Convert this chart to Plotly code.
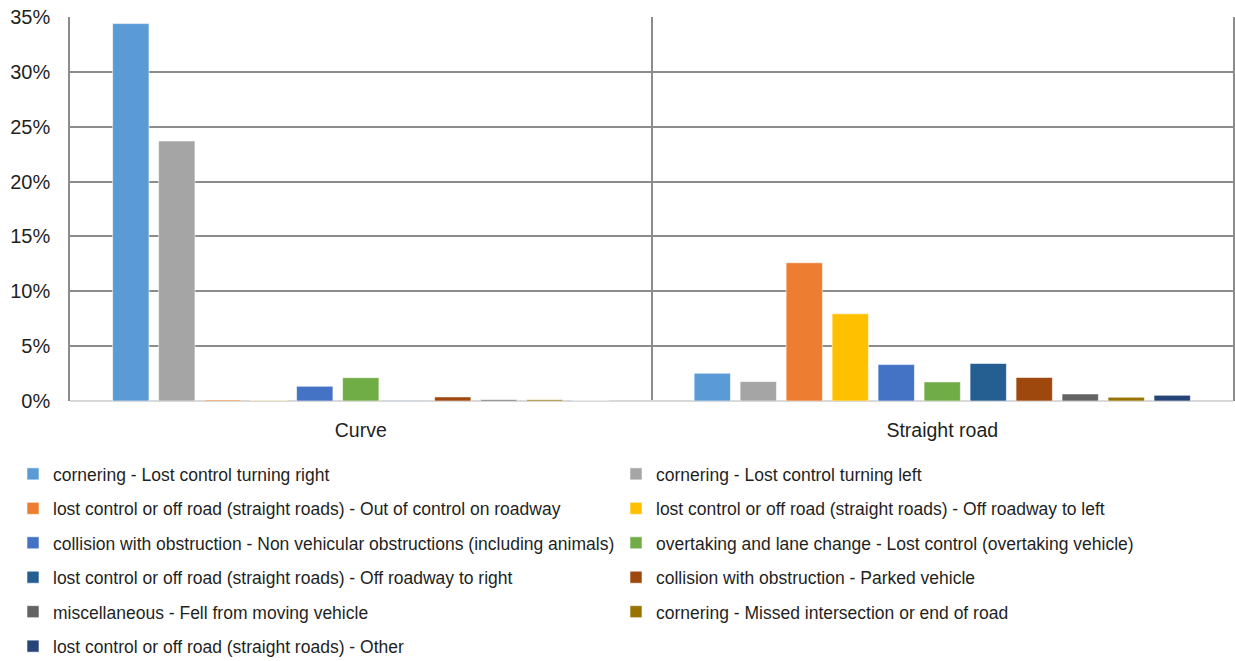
import plotly.graph_objects as go

categories = ["Curve", "Straight road"]

series_names = [
    "cornering - Lost control turning right",
    "cornering - Lost control turning left",
    "lost control or off road (straight roads) - Out of control on roadway",
    "lost control or off road (straight roads) - Off roadway to left",
    "collision with obstruction - Non vehicular obstructions (including animals)",
    "overtaking and lane change - Lost control (overtaking vehicle)",
    "lost control or off road (straight roads) - Off roadway to right",
    "collision with obstruction - Parked vehicle",
    "miscellaneous - Fell from moving vehicle",
    "cornering - Missed intersection or end of road",
    "lost control or off road (straight roads) - Other",
]

curve_values = [0.344, 0.237, 0.001, 0.0005, 0.0134, 0.0213, 0.0005, 0.0037, 0.0012, 0.0012, 0.0]
straight_values = [0.0253, 0.0177, 0.126, 0.0795, 0.0332, 0.0174, 0.0342, 0.0214, 0.0064, 0.0034, 0.0052]

colors = ["#5B9BD5", "#A5A5A5", "#ED7D31", "#FFC000", "#4472C4", "#70AD47",
          "#255E91", "#9E480E", "#636363", "#997300", "#264478"]

y_ticks = [0, 0.05, 0.10, 0.15, 0.20, 0.25, 0.30, 0.35]
y_tick_labels = ["0%", "5%", "10%", "15%", "20%", "25%", "30%", "35%"]

FONT = "Liberation Sans, Arial, sans-serif"
GRID = "#8c8c8c"

fig = go.Figure()
for i, name in enumerate(series_names):
    fig.add_trace(go.Bar(
        name=name,
        x=categories,
        y=[curve_values[i], straight_values[i]],
        marker=dict(color=colors[i], line=dict(color="rgba(255,255,255,0.7)", width=0.8)),
        legend="legend" if i % 2 == 0 else "legend2",
        legendgroup=name,
        hovertemplate="%{x}: %{y:.1%}<extra>" + name + "</extra>",
    ))

legend_common = dict(
    orientation="v",
    xref="container", yref="container",
    yanchor="top", xanchor="left",
    font=dict(family=FONT, size=17.5, color="#1f1f1f"),
    tracegroupgap=8.7,
    borderwidth=0,
    bgcolor="rgba(0,0,0,0)",
    itemclick=False, itemdoubleclick=False,
)

fig.update_layout(
    width=1235, height=661,
    margin=dict(l=70, r=2, t=17, b=260, autoexpand=False),
    paper_bgcolor="white", plot_bgcolor="white",
    barmode="group",
    bargap=0.13,
    bargroupgap=0.21,
    font=dict(family=FONT, color="#262626"),
    legend=dict(x=13 / 1235, y=1 - 456 / 661, **legend_common),
    legend2=dict(x=616 / 1235, y=1 - 456 / 661, **legend_common),
    xaxis=dict(
        type="category",
        tickson="boundaries",
        showgrid=True, gridcolor=GRID, gridwidth=1.5,
        ticks="", showline=False,
        tickfont=dict(family=FONT, size=19.5, color="#1f1f1f"),
        ticklabelstandoff=15,
    ),
    yaxis=dict(
        range=[0, 0.35],
        tickvals=y_ticks, ticktext=y_tick_labels,
        showgrid=True, gridcolor=GRID, gridwidth=1.5,
        zeroline=True, zerolinecolor="#d9d9d9", zerolinewidth=2,
        showline=True, linecolor=GRID, linewidth=1.5, mirror=True,
        ticks="",
        tickfont=dict(family=FONT, size=20, color="#1f1f1f"),
        ticklabelstandoff=14,
    ),
)

fig.write_html("out.html", config={"displayModeBar": False},
               post_script="document.body.style.margin='0';")
